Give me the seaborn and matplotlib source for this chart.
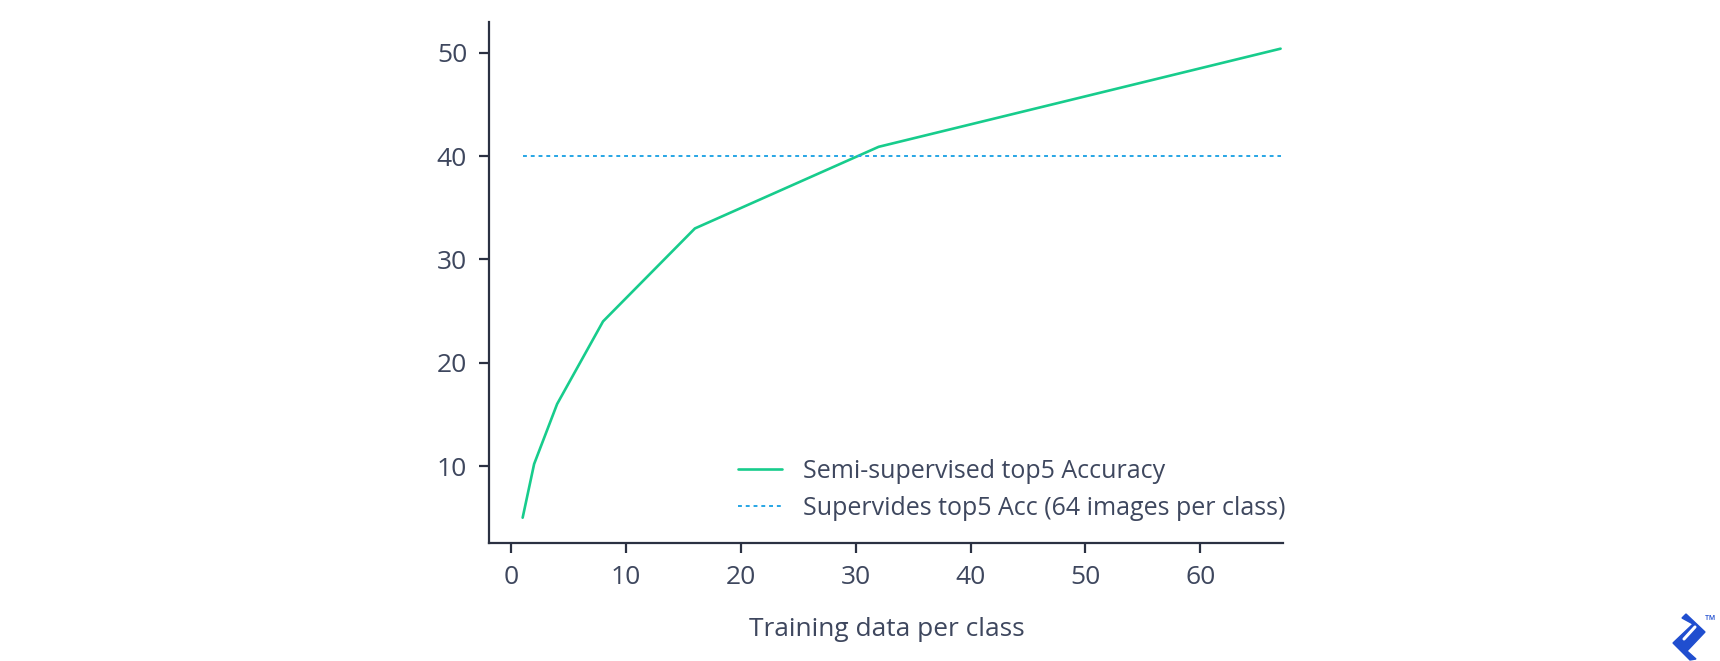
import matplotlib
matplotlib.use("Agg")
import matplotlib.pyplot as plt
import seaborn as sns
import pandas as pd
from matplotlib.patches import Polygon
from matplotlib.lines import Line2D

# Data
train_per_class = [1, 2, 4, 8, 16, 32, 67]
semi_top5_acc = [5.0, 10.2, 16.0, 24.0, 33.0, 40.9, 50.4]
supervised_x = [1, 67]
supervised_acc = [40.0, 40.0]
x_ticks = [0, 10, 20, 30, 40, 50, 60]
y_ticks = [10, 20, 30, 40, 50]

sns.set_theme(style="ticks")
plt.rcParams['font.family'] = ['Open Sans', 'DejaVu Sans']
TXT = "#3e475e"
SPINE = "#2b3142"

fig = plt.figure(figsize=(17.2, 6.61), dpi=100)
ax = fig.add_axes([0.2845, 0.1785, 0.4617, 0.7885])

df_semi = pd.DataFrame({"x": train_per_class, "y": semi_top5_acc})
df_sup = pd.DataFrame({"x": supervised_x, "y": supervised_acc})

sns.lineplot(data=df_semi, x="x", y="y", ax=ax, color="#17cc8c", linewidth=1.9,
             label="Semi-supervised top5 Accuracy")
sns.lineplot(data=df_sup, x="x", y="y", ax=ax, color="#27a6e5", linewidth=1.4,
             linestyle=(0, (2, 2)), label="Supervides top5 Acc (64 images per class)")

ax.set_xlim(-1.9, 67.25)
ax.set_ylim(2.55, 53.0)
ax.set_xticks(x_ticks)
ax.set_yticks(y_ticks)
ax.set_xlabel("Training data per class", fontsize=18.9, color=TXT, labelpad=19)
ax.set_ylabel("")
ax.tick_params(axis="both", labelsize=19, colors=TXT, length=7, width=1.6,
               direction="out", pad=9)
ax.tick_params(axis="both", color=SPINE)
for s in ["top", "right"]:
    ax.spines[s].set_visible(False)
for s in ["left", "bottom"]:
    ax.spines[s].set_color(SPINE)
    ax.spines[s].set_linewidth(1.6)

leg = ax.legend(loc="lower right", frameon=False, fontsize=18, handlelength=1.75,
                handletextpad=0.85, labelspacing=0.46, borderaxespad=0.0,
                bbox_to_anchor=(1.015, 0.024))
for t in leg.get_texts():
    t.set_color(TXT)

# Logo (decorative)
W, H = 1720, 661
def fp(px, py):
    return (px / W, 1 - py / H)
outer = [fp(1686, 614), fp(1705, 632), fp(1687, 651), fp(1696, 659), fp(1690, 660),
         fp(1673, 643), fp(1693, 624), fp(1682, 618)]
poly = Polygon(outer, closed=True, transform=fig.transFigure, color="#204ecf")
fig.patches.append(poly)
a, b = fp(1695, 627), fp(1684, 639)
fig.lines.append(Line2D([a[0], b[0]], [a[1], b[1]], transform=fig.transFigure,
                        color="white", linewidth=2.2, solid_capstyle="round"))
fig.text(1705 / W, 1 - 621 / H, "™", fontsize=10, color="#204ecf", ha="left", va="center")

fig.savefig("out.png", dpi=100)
